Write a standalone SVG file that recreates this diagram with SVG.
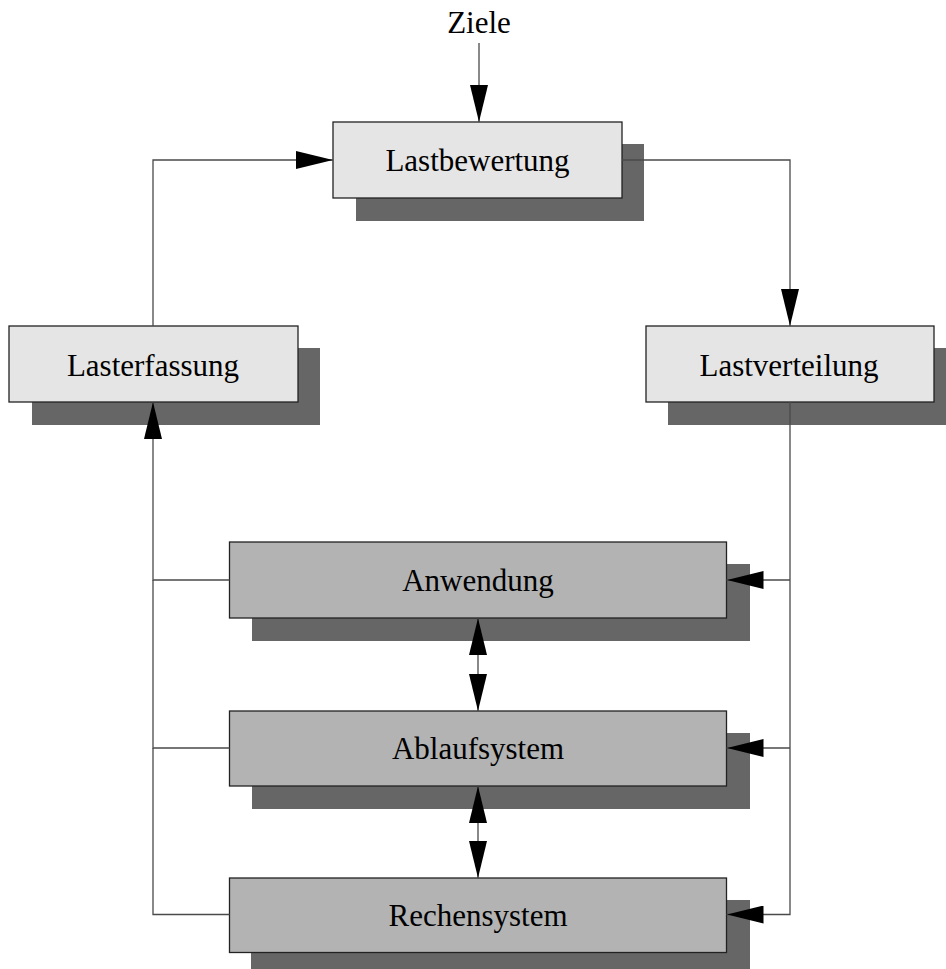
<svg xmlns="http://www.w3.org/2000/svg" width="946" height="969" viewBox="0 0 946 969">
  <style>
    .shadow { fill: #666666; }
    .light { fill: #e5e5e5; stroke: #222222; stroke-width: 1.3; }
    .dark { fill: #b3b3b3; stroke: #222222; stroke-width: 1.3; }
    .label { font-family: "Liberation Serif", "Times New Roman", serif; font-size: 31px; fill: #000000; text-anchor: middle; }
    .wire { fill: none; stroke: #4a4a4a; stroke-width: 1.3; }
  </style>
  <defs>
    <marker id="arrow" viewBox="0 0 37 18" refX="37" refY="9" markerWidth="37" markerHeight="18" markerUnits="userSpaceOnUse" orient="auto-start-reverse">
      <path d="M0,0 L37,9 L0,18 Z" fill="#000000"/>
    </marker>
  </defs>

  <rect width="946" height="969" fill="#ffffff"/>

  <text class="label" x="479" y="33">Ziele</text>

  <g id="lastbewertung">
    <rect class="shadow" x="356" y="144" width="288" height="77"/>
    <rect class="light" x="333" y="122" width="289" height="76"/>
    <text class="label" x="477.5" y="171">Lastbewertung</text>
  </g>

  <g id="lasterfassung">
    <rect class="shadow" x="32" y="348" width="288" height="77"/>
    <rect class="light" x="9" y="326" width="289" height="76"/>
    <text class="label" x="153" y="376">Lasterfassung</text>
  </g>

  <g id="lastverteilung">
    <rect class="shadow" x="668" y="348" width="288" height="77"/>
    <rect class="light" x="646" y="326" width="288" height="76"/>
    <text class="label" x="789" y="376">Lastverteilung</text>
  </g>

  <g id="anwendung">
    <rect class="shadow" x="252" y="564" width="498" height="77"/>
    <rect class="dark" x="229.5" y="542" width="497" height="76"/>
    <text class="label" x="478" y="591">Anwendung</text>
  </g>

  <g id="ablaufsystem">
    <rect class="shadow" x="252" y="733" width="498" height="76"/>
    <rect class="dark" x="229.5" y="711" width="497" height="75"/>
    <text class="label" x="478" y="759">Ablaufsystem</text>
  </g>

  <g id="rechensystem">
    <rect class="shadow" x="251" y="900" width="499" height="76"/>
    <rect class="dark" x="229.5" y="878" width="497" height="74.5"/>
    <text class="label" x="478" y="926">Rechensystem</text>
  </g>

  <g id="connectors">
    <!-- goals into evaluation -->
    <path class="wire" d="M479,43 V122" marker-end="url(#arrow)"/>
    <!-- acquisition -> evaluation -->
    <path class="wire" d="M153,326 V160 H333" marker-end="url(#arrow)"/>
    <!-- evaluation -> distribution -->
    <path class="wire" d="M622,160 H790 V326" marker-end="url(#arrow)"/>
    <!-- layers report up to acquisition -->
    <path class="wire" d="M229.5,580 H153 V402" marker-end="url(#arrow)"/>
    <path class="wire" d="M229.5,748 H153 V580"/>
    <path class="wire" d="M229.5,914.5 H153 V748"/>
    <!-- distribution acts on each layer -->
    <path class="wire" d="M790,402 V914.5 H726.5" marker-end="url(#arrow)"/>
    <path class="wire" d="M790,580 H726.5" marker-end="url(#arrow)"/>
    <path class="wire" d="M790,748 H726.5" marker-end="url(#arrow)"/>
    <!-- layer interaction -->
    <path class="wire" d="M478,618 V711" marker-start="url(#arrow)" marker-end="url(#arrow)"/>
    <path class="wire" d="M478,786 V878" marker-start="url(#arrow)" marker-end="url(#arrow)"/>
  </g>
</svg>
